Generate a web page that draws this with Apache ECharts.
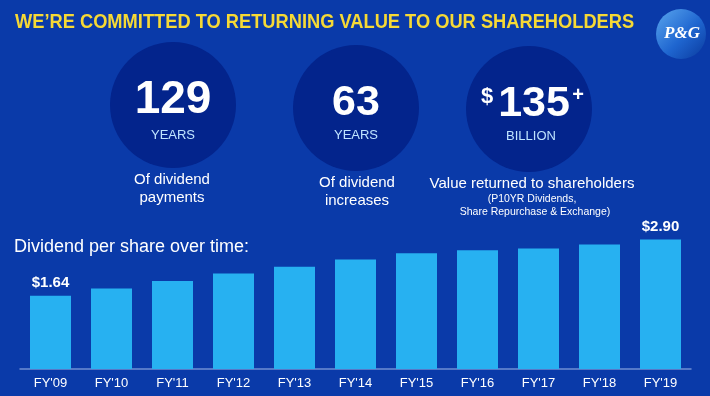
<!DOCTYPE html>
<html>
<head>
<meta charset="utf-8">
<script src="https://cdn.jsdelivr.net/npm/echarts@6/dist/echarts.min.js"></script>
<style>
html,body{margin:0;padding:0;background:#0a3aa9;}
#c{width:710px;height:396px;}
</style>
</head>
<body>
<div id="c"></div>
<script>
var categories = ["FY'09","FY'10","FY'11","FY'12","FY'13","FY'14","FY'15","FY'16","FY'17","FY'18","FY'19"];
var dividends = [1.64, 1.80, 1.97, 2.14, 2.29, 2.45, 2.59, 2.66, 2.70, 2.79, 2.90];
var labelledIdx = [0, 10];
var titleText = "WE\u2019RE COMMITTED TO RETURNING VALUE TO OUR SHAREHOLDERS";
var statBig = ["129", "63", "135"];
var statUnit = ["YEARS", "YEARS", "BILLION"];
var statDesc1 = ["Of dividend", "Of dividend", "Value returned to shareholders"];
var statDesc2 = ["payments", "increases", ""];
var statNote = ["(P10YR Dividends,", "Share Repurchase & Exchange)"];
var subTitle = "Dividend per share over time:";

var chart = echarts.init(document.getElementById('c'), null, {renderer: 'canvas'});
var FONT = 'Liberation Sans, Arial, Helvetica, sans-serif';

var circles = [
  {cx: 173, cy: 105},
  {cx: 356, cy: 108},
  {cx: 529, cy: 109}
];
var bigX = [173, 356, 534];
var graphics = [];
// title
graphics.push({
  type: 'text', x: 15, y: 22, scaleX: 0.87, originX: 0, originY: 0,
  style: {text: titleText, fill: '#f6d935', font: 'bold 21px ' + FONT, textAlign: 'left', textVerticalAlign: 'middle'}
});
// logo
graphics.push({
  type: 'circle', shape: {cx: 681, cy: 34, r: 25},
  style: {fill: new echarts.graphic.LinearGradient(0, 0, 1, 1, [
    {offset: 0, color: '#5aa6ee'}, {offset: 0.55, color: '#1f66d0'}, {offset: 1, color: '#0a3a9e'}
  ])}
});
graphics.push({
  type: 'text', x: 682, y: 34,
  style: {text: 'P&G', fill: '#ffffff', font: 'italic bold 17px "Liberation Serif", "DejaVu Serif", serif', textAlign: 'center', textVerticalAlign: 'middle'}
});
circles.forEach(function (c, i) {
  graphics.push({type: 'circle', shape: {cx: c.cx, cy: c.cy, r: 63}, style: {fill: '#03248c'}});
  graphics.push({type: 'text', x: bigX[i], y: c.cy - 5,
    style: {text: statBig[i], fill: '#ffffff', font: 'bold ' + (i === 0 ? 46 : 43) + 'px ' + FONT, textAlign: 'center', textVerticalAlign: 'middle'}});
  graphics.push({type: 'text', x: c.cx + (i === 2 ? 2 : 0), y: c.cy + 30 - (i === 0 ? 0 : 3),
    style: {text: statUnit[i], fill: '#bfe4ff', font: '13px ' + FONT, textAlign: 'center', textVerticalAlign: 'middle'}});
});
graphics.push({type: 'text', x: 487, y: 97, style: {text: '$', fill: '#ffffff', font: 'bold 22px ' + FONT, textAlign: 'center', textVerticalAlign: 'middle'}});
graphics.push({type: 'text', x: 578, y: 95, style: {text: '+', fill: '#ffffff', font: 'bold 20px ' + FONT, textAlign: 'center', textVerticalAlign: 'middle'}});
// descriptions
graphics.push({type: 'text', x: 172, y: 180, style: {text: statDesc1[0], fill: '#ffffff', font: '15px ' + FONT, textAlign: 'center', textVerticalAlign: 'middle'}});
graphics.push({type: 'text', x: 172, y: 198, style: {text: statDesc2[0], fill: '#ffffff', font: '15px ' + FONT, textAlign: 'center', textVerticalAlign: 'middle'}});
graphics.push({type: 'text', x: 357, y: 183, style: {text: statDesc1[1], fill: '#ffffff', font: '15px ' + FONT, textAlign: 'center', textVerticalAlign: 'middle'}});
graphics.push({type: 'text', x: 357, y: 201, style: {text: statDesc2[1], fill: '#ffffff', font: '15px ' + FONT, textAlign: 'center', textVerticalAlign: 'middle'}});
graphics.push({type: 'text', x: 532, y: 184, style: {text: statDesc1[2], fill: '#ffffff', font: '15px ' + FONT, textAlign: 'center', textVerticalAlign: 'middle'}});
graphics.push({type: 'text', x: 532, y: 199, style: {text: statNote[0], fill: '#ffffff', font: '10.5px ' + FONT, textAlign: 'center', textVerticalAlign: 'middle'}});
graphics.push({type: 'text', x: 535, y: 212, style: {text: statNote[1], fill: '#ffffff', font: '10.5px ' + FONT, textAlign: 'center', textVerticalAlign: 'middle'}});
graphics.push({type: 'text', x: 14, y: 247, style: {text: subTitle, fill: '#ffffff', font: '18px ' + FONT, textAlign: 'left', textVerticalAlign: 'middle'}});

var barData = dividends.map(function (v, i) {
  var item = {value: v};
  if (labelledIdx.indexOf(i) >= 0) {
    item.label = {show: true, position: 'top', distance: 5, formatter: function (p) { return '$' + p.value.toFixed(2); },
      color: '#ffffff', fontWeight: 'bold', fontSize: 15, fontFamily: FONT};
  }
  return item;
});

chart.setOption({
  backgroundColor: '#0a3aa9',
  animation: false,
  grid: {left: 20, right: 19, top: 235, bottom: 27, containLabel: false},
  xAxis: {
    type: 'category', data: categories,
    axisLine: {show: true, lineStyle: {color: '#6f8ed3', width: 1.5}},
    axisTick: {show: false},
    axisLabel: {color: '#ffffff', fontSize: 13, fontFamily: FONT, margin: 8}
  },
  yAxis: {type: 'value', min: 0, max: 3, show: false, splitLine: {show: false}},
  series: [{
    type: 'bar', data: barData, barWidth: 41,
    itemStyle: {color: '#27b1f1'}
  }],
  graphic: graphics
});
</script>
</body>
</html>
